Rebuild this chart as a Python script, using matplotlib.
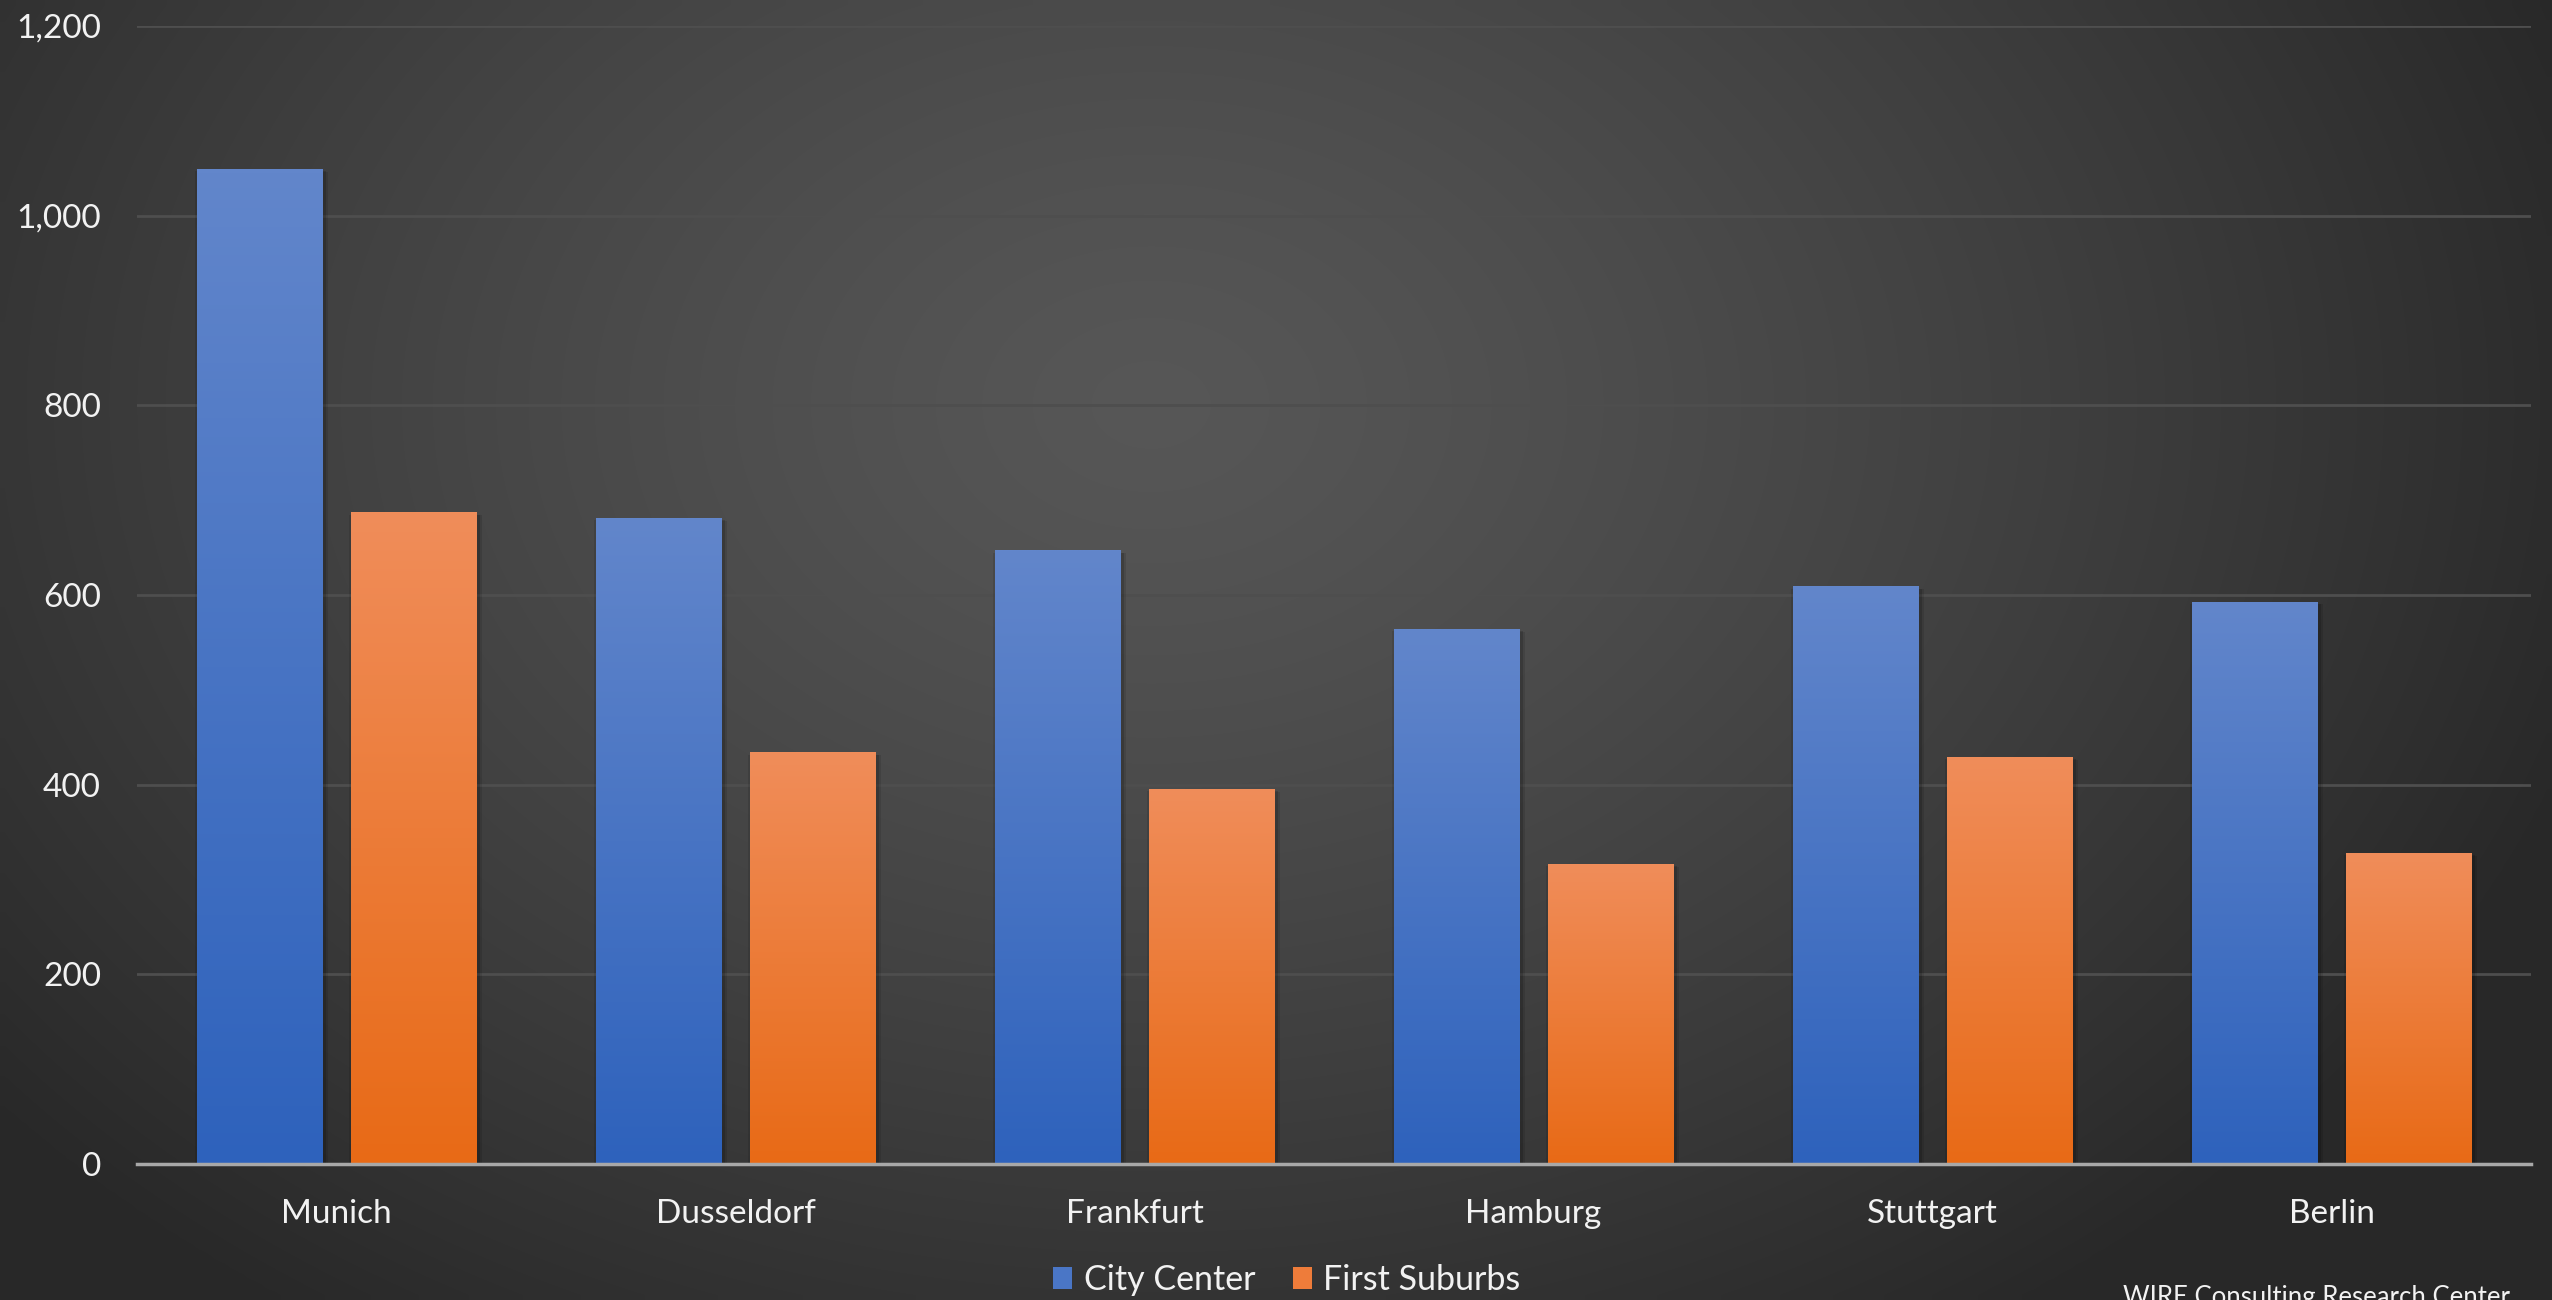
import numpy as np
import matplotlib
matplotlib.use("Agg")
import matplotlib.pyplot as plt
from matplotlib.patches import Patch
from matplotlib.colors import LinearSegmentedColormap
import matplotlib.patheffects as pe
from matplotlib.ticker import FuncFormatter

plt.rcParams['font.family'] = ['Lato', 'DejaVu Sans']

cities = ["Munich", "Dusseldorf", "Frankfurt", "Hamburg", "Stuttgart", "Berlin"]
city_center = [1049, 681, 647, 564, 609, 593]
first_suburbs = [687, 434, 395, 316, 429, 328]
series_names = ["City Center", "First Suburbs"]
yticks = [0, 200, 400, 600, 800, 1000, 1200]
source = "WIRE Consulting Research Center"

W, H = 2552, 1300
fig = plt.figure(figsize=(W / 100, H / 100), dpi=100)

# background radial gradient
bg = fig.add_axes([0, 0, 1, 1], zorder=-10)
yy, xx = np.mgrid[0:130, 0:256]
cx, cy = 115, 40
r = np.sqrt(((xx - cx) / 150.0) ** 2 + ((yy - cy) / 110.0) ** 2)
val = 0.34 - 0.18 * np.clip(r, 0, 1.0) ** 1.3
bg.imshow(np.dstack([val, val, val]), aspect='auto', extent=[0, 1, 0, 1],
          interpolation='bilinear', origin='upper')
bg.set_axis_off()

ax = fig.add_axes([137 / W, 1 - 1164 / H, (2531 - 137) / W, (1164 - 26) / H])
ax.patch.set_alpha(0)

x = np.arange(len(cities))
width = 0.314
offset = 0.193

blue_cmap = LinearSegmentedColormap.from_list("b", ["#2E62BC", "#6286CB"])
orange_cmap = LinearSegmentedColormap.from_list("o", ["#E86A16", "#F08D5A"])
grad = np.linspace(0, 1, 256).reshape(-1, 1)

shadow = [pe.SimplePatchShadow(offset=(4, -2), shadow_rgbFace='black', alpha=0.10),
          pe.SimplePatchShadow(offset=(2.5, -1.5), shadow_rgbFace='black', alpha=0.15),
          pe.SimplePatchShadow(offset=(-1.5, -1.5), shadow_rgbFace='black', alpha=0.10),
          pe.Normal()]

for vals, off, cmap, base in [(city_center, -offset, blue_cmap, "#4A76C6"),
                              (first_suburbs, offset, orange_cmap, "#EE7C3A")]:
    bars = ax.bar(x + off, vals, width=width, color=base, zorder=3)
    for b in bars:
        b.set_path_effects(shadow)
        x0, y0 = b.get_x(), b.get_y()
        w, h = b.get_width(), b.get_height()
        im = ax.imshow(grad, cmap=cmap, origin='lower', aspect='auto',
                       extent=[x0, x0 + w, y0, y0 + h], zorder=4)
        im.set_clip_path(b)

ax.set_xlim(-0.5, len(cities) - 0.5)
ax.set_ylim(0, 1200)

ax.set_yticks(yticks)
ax.yaxis.set_major_formatter(FuncFormatter(lambda v, p: f"{int(v):,}"))
ax.set_xticks(x)
ax.set_xticklabels(cities)
ax.tick_params(axis='both', length=0, labelsize=24, labelcolor='#F2F2F2')
ax.tick_params(axis='x', pad=25)
ax.tick_params(axis='y', pad=26)
ax.grid(axis='y', color='#4E4E4E', linewidth=2, zorder=0)
ax.set_axisbelow(True)
for s in ['top', 'right', 'left']:
    ax.spines[s].set_visible(False)
ax.spines['bottom'].set_color('#A8A8A8')
ax.spines['bottom'].set_linewidth(2.5)
ax.spines['bottom'].set_zorder(5)

handles = [Patch(facecolor="#4A76C6", edgecolor='none'),
           Patch(facecolor="#EE7C3A", edgecolor='none')]
fig.legend(handles, series_names, loc='center', bbox_to_anchor=(1287 / W, 20 / H),
           ncol=2, frameon=False, fontsize=24.5, labelcolor='#F2F2F2',
           handlelength=0.55, handleheight=0.65, handletextpad=0.35, columnspacing=1.1)

fig.text(2123 / W, -10 / H, source, fontsize=18.5, color='#F2F2F2', ha='left', va='bottom')

fig.savefig("out.png", dpi=100)
